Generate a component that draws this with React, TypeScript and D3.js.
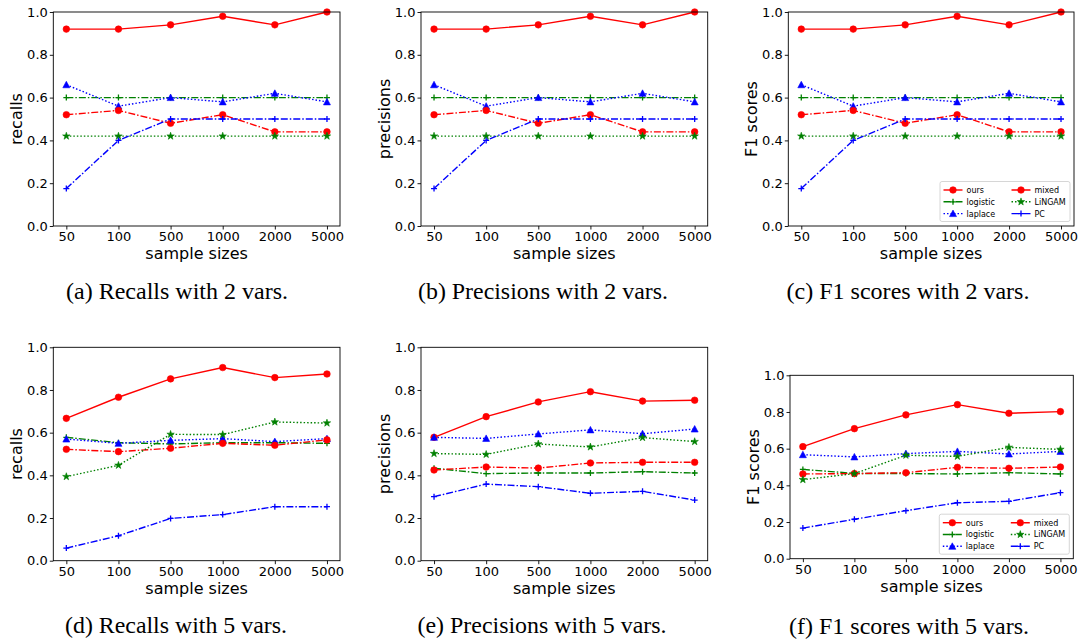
import React, { useEffect, useRef } from 'react';
import * as d3 from 'd3';

const SAMPLE_SIZES = ['50', '100', '500', '1000', '2000', '5000'];
const Y_TICKS = [0, 0.2, 0.4, 0.6, 0.8, 1.0];

// 2 variables: recall, precision and F1 panels show the same numbers
const OURS_2 = [0.92, 0.92, 0.94, 0.98, 0.94, 1.0];
const LOGISTIC_2 = [0.6, 0.6, 0.6, 0.6, 0.6, 0.6];
const LAPLACE_2 = [0.66, 0.56, 0.6, 0.58, 0.62, 0.58];
const MIXED_2 = [0.52, 0.54, 0.48, 0.52, 0.44, 0.44];
const LINGAM_2 = [0.42, 0.42, 0.42, 0.42, 0.42, 0.42];
const PC_2 = [0.175, 0.4, 0.5, 0.5, 0.5, 0.5];

// recalls, 5 variables
const RECALL5_OURS = [0.667, 0.766, 0.852, 0.905, 0.858, 0.875];
const RECALL5_LOGISTIC = [0.578, 0.553, 0.547, 0.553, 0.553, 0.55];
const RECALL5_LAPLACE = [0.57, 0.55, 0.564, 0.572, 0.558, 0.572];
const RECALL5_MIXED = [0.522, 0.511, 0.527, 0.55, 0.541, 0.566];
const RECALL5_LINGAM = [0.394, 0.447, 0.592, 0.591, 0.65, 0.645];
const RECALL5_PC = [0.059, 0.117, 0.198, 0.216, 0.253, 0.253];

// precisions, 5 variables
const PREC5_OURS = [0.578, 0.675, 0.744, 0.792, 0.748, 0.752];
const PREC5_LOGISTIC = [0.433, 0.408, 0.411, 0.411, 0.417, 0.411];
const PREC5_LAPLACE = [0.578, 0.573, 0.594, 0.613, 0.595, 0.617];
const PREC5_MIXED = [0.425, 0.439, 0.434, 0.458, 0.461, 0.461];
const PREC5_LINGAM = [0.502, 0.498, 0.547, 0.533, 0.577, 0.558];
const PREC5_PC = [0.3, 0.359, 0.347, 0.316, 0.325, 0.284];

// F1 scores, 5 variables
const F15_OURS = [0.611, 0.709, 0.784, 0.84, 0.793, 0.802];
const F15_LOGISTIC = [0.487, 0.465, 0.464, 0.462, 0.469, 0.462];
const F15_LAPLACE = [0.567, 0.555, 0.573, 0.585, 0.571, 0.585];
const F15_MIXED = [0.462, 0.464, 0.469, 0.498, 0.493, 0.5];
const F15_LINGAM = [0.431, 0.464, 0.564, 0.558, 0.607, 0.596];
const F15_PC = [0.167, 0.215, 0.262, 0.305, 0.313, 0.36];

const METHODS = ['ours', 'logistic', 'laplace', 'mixed', 'LiNGAM', 'PC'];

const STYLE = {
  ours: { color: '#ff0000', dash: null, marker: 'circle' },
  logistic: { color: '#008000', dash: '7,2,1.5,2', marker: 'plus' },
  laplace: { color: '#0000ff', dash: '1.5,2', marker: 'triangle' },
  mixed: { color: '#ff0000', dash: '7,2,1.5,2', marker: 'circle' },
  LiNGAM: { color: '#008000', dash: '1.5,2', marker: 'star' },
  PC: { color: '#0000ff', dash: '7,2,1.5,2', marker: 'plus' },
};

const two = [OURS_2, LOGISTIC_2, LAPLACE_2, MIXED_2, LINGAM_2, PC_2];

const PANELS = [
  { frame: [53.3, 340, 12, 226], ylabel: 'recalls', caption: '(a) Recalls with 2 vars.', cx: 177, cy: 299, clen: 222, data: two, legend: false },
  { frame: [421, 707.7, 12, 226], ylabel: 'precisions', caption: '(b) Precisions with 2 vars.', cx: 543, cy: 299, clen: 250, data: two, legend: false },
  { frame: [788.3, 1074, 12, 226], ylabel: 'F1 scores', caption: '(c) F1 scores with 2 vars.', cx: 908, cy: 299, clen: 243, data: two, legend: true },
  { frame: [53.3, 340, 347.3, 560.7], ylabel: 'recalls', caption: '(d) Recalls with 5 vars.', cx: 176, cy: 633, clen: 222,
    data: [RECALL5_OURS, RECALL5_LOGISTIC, RECALL5_LAPLACE, RECALL5_MIXED, RECALL5_LINGAM, RECALL5_PC], legend: false },
  { frame: [421, 707.7, 347.3, 560.7], ylabel: 'precisions', caption: '(e) Precisions with 5 vars.', cx: 542, cy: 633, clen: 249,
    data: [PREC5_OURS, PREC5_LOGISTIC, PREC5_LAPLACE, PREC5_MIXED, PREC5_LINGAM, PREC5_PC], legend: false },
  { frame: [790, 1073.3, 375.3, 558.7], ylabel: 'F1 scores', caption: '(f) F1 scores with 5 vars.', cx: 909, cy: 634, clen: 240,
    data: [F15_OURS, F15_LOGISTIC, F15_LAPLACE, F15_MIXED, F15_LINGAM, F15_PC], legend: true },
];

function markerPath(kind) {
  if (kind === 'circle') return d3.symbol(d3.symbolCircle, Math.PI * 3.3 * 3.3)();
  if (kind === 'triangle') return 'M0,-3.5L3.5,3L-3.5,3Z';
  if (kind === 'plus') return 'M-3,0H3M0,-3V3';
  // five-pointed star
  const pts = [];
  for (let i = 0; i < 10; i++) {
    const r = i % 2 === 0 ? 3.9 : 1.5;
    const a = -Math.PI / 2 + (i * Math.PI) / 5;
    pts.push([r * Math.cos(a), r * Math.sin(a)]);
  }
  return 'M' + pts.map(p => p.join(',')).join('L') + 'Z';
}

function drawMarker(g, kind, color, x, y) {
  const p = g.append('path')
    .attr('d', markerPath(kind))
    .attr('transform', `translate(${x},${y})`);
  if (kind === 'plus') {
    p.attr('fill', 'none').attr('stroke', color).attr('stroke-width', 1.3);
  } else {
    p.attr('fill', color).attr('stroke', color).attr('stroke-width', 0.6);
  }
}

export default function App() {
  const svgRef = useRef(null);

  useEffect(() => {
    const svg = d3.select(svgRef.current);
    svg.selectAll('*').remove();

    PANELS.forEach(panel => {
      const [left, right, top, bottom] = panel.frame;
      const g = svg.append('g').attr('font-family', '"DejaVu Sans", sans-serif');

      const x = d3.scaleLinear().domain([-0.25, SAMPLE_SIZES.length - 0.75]).range([left, right]);
      const y = d3.scaleLinear().domain([0, 1]).range([bottom, top]);

      // axes
      const xAxis = d3.axisBottom(x)
        .tickValues(SAMPLE_SIZES.map((_, i) => i))
        .tickFormat(i => SAMPLE_SIZES[i])
        .tickSize(3.5)
        .tickPadding(2.6);
      const yAxis = d3.axisLeft(y)
        .tickValues(Y_TICKS)
        .tickFormat(d3.format('.1f'))
        .tickSize(3.5)
        .tickPadding(2);

      const xg = g.append('g').attr('transform', `translate(0,${bottom})`).call(xAxis);
      const yg = g.append('g').attr('transform', `translate(${left},0)`).call(yAxis);
      [xg, yg].forEach(a => {
        a.select('.domain').remove();
        a.selectAll('text').attr('font-size', 13).attr('fill', '#000').attr('font-family', '"DejaVu Sans", sans-serif');
        a.selectAll('line').attr('stroke', '#000').attr('stroke-width', 0.9);
      });

      // series
      const line = d3.line().x((_, i) => x(i)).y(d => y(d));
      METHODS.forEach((m, k) => {
        const st = STYLE[m];
        const vals = panel.data[k];
        g.append('path')
          .attr('d', line(vals))
          .attr('fill', 'none')
          .attr('stroke', st.color)
          .attr('stroke-width', 1.4)
          .attr('stroke-dasharray', st.dash);
        vals.forEach((v, i) => drawMarker(g, st.marker, st.color, x(i), y(v)));
      });

      // frame
      g.append('rect')
        .attr('x', left).attr('y', top)
        .attr('width', right - left).attr('height', bottom - top)
        .attr('fill', 'none').attr('stroke', '#000').attr('stroke-width', 0.9);

      // axis labels
      g.append('text')
        .attr('x', (left + right) / 2)
        .attr('y', bottom + 33)
        .attr('text-anchor', 'middle')
        .attr('font-size', 16)
        .text('sample sizes');
      g.append('text')
        .attr('transform', `translate(${left - 31},${(top + bottom) / 2}) rotate(-90)`)
        .attr('text-anchor', 'middle')
        .attr('font-size', 16)
        .text(panel.ylabel);

      // legend
      if (panel.legend) {
        const w = 130, h = 40;
        const lx = right - 4 - w, ly = bottom - 4.5 - h;
        const lg = g.append('g').attr('transform', `translate(${lx},${ly})`);
        lg.append('rect')
          .attr('width', w).attr('height', h).attr('rx', 2)
          .attr('fill', '#fff').attr('fill-opacity', 0.8)
          .attr('stroke', '#cccccc').attr('stroke-width', 0.8);
        METHODS.forEach((m, k) => {
          const st = STYLE[m];
          const col = Math.floor(k / 3), row = k % 3;
          const hx = 3.5 + col * 68, hy = 8.5 + row * 11.8;
          lg.append('line')
            .attr('x1', hx).attr('x2', hx + 19)
            .attr('y1', hy).attr('y2', hy)
            .attr('stroke', st.color).attr('stroke-width', 1.4)
            .attr('stroke-dasharray', st.dash);
          drawMarker(lg, st.marker, st.color, hx + 9.5, hy);
          lg.append('text')
            .attr('x', hx + 23).attr('y', hy + 3)
            .attr('font-size', 8)
            .text(m);
        });
      }

      // caption
      svg.append('text')
        .attr('x', panel.cx)
        .attr('y', panel.cy)
        .attr('text-anchor', 'middle')
        .attr('font-family', '"Liberation Serif", "Times New Roman", serif')
        .attr('font-size', 23)
        .attr('textLength', panel.clen)
        .attr('lengthAdjust', 'spacingAndGlyphs')
        .text(panel.caption);
    });
  }, []);

  return (
    <svg
      ref={svgRef}
      width={1080}
      height={642}
      style={{ position: 'absolute', left: 0, top: 0, background: '#fff' }}
    />
  );
}
